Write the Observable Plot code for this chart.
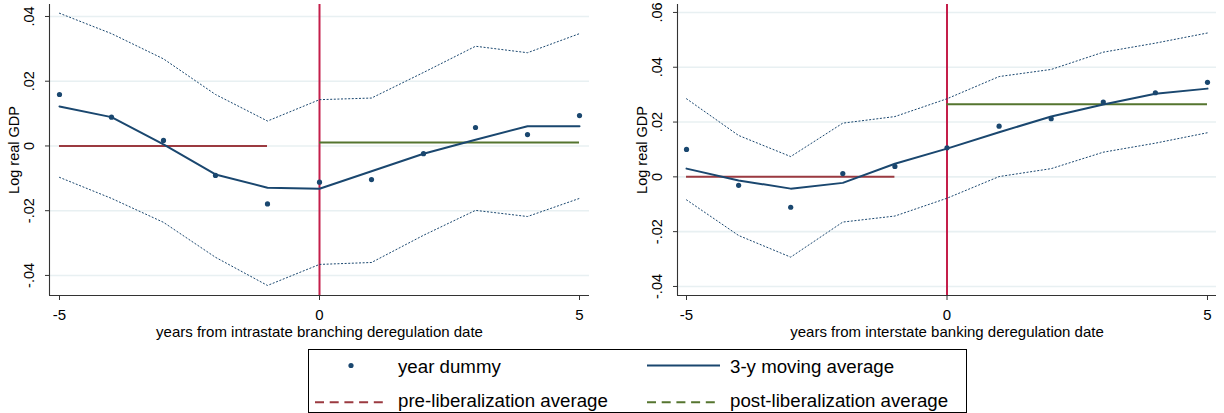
<!DOCTYPE html>
<html>
<head>
<meta charset="utf-8">
<script src="https://cdn.jsdelivr.net/npm/d3@7"></script>
<script src="https://cdn.jsdelivr.net/npm/@observablehq/plot@0.6"></script>
<style>
  html, body { margin: 0; padding: 0; background: #fff; }
  #page { position: relative; width: 1224px; height: 413px; overflow: hidden;
          font-family: "Liberation Sans", Arial, sans-serif; }
  #left { position: absolute; left: 0; top: 0; }
  #right { position: absolute; left: 612px; top: 0; }
  #legend { position: absolute; left: 0; top: 340px; }
</style>
</head>
<body>
<div id="page">
  <div id="left"></div>
  <div id="right"></div>
  <svg id="legend" width="1224" height="73"></svg>
</div>
<script>
// Event time: years relative to the deregulation date
const years = [-5, -4, -3, -2, -1, 0, 1, 2, 3, 4, 5];
const xTicks = [-5, 0, 5];

// Intrastate branching deregulation
const intraDummy = [0.0159, 0.0089, 0.0017, -0.0091, -0.0179, -0.0112, -0.0104, -0.0024, 0.0057, 0.0035, 0.0094];
const intraMA    = [0.0122, 0.0089, 0.0005, -0.0088, -0.0129, -0.0132, -0.0078, -0.0024, 0.0019, 0.0061, 0.0061];
const intraUpper = [0.0410, 0.0347, 0.0269, 0.0159, 0.0077, 0.0143, 0.0148, 0.0227, 0.0308, 0.0288, 0.0347];
const intraLower = [-0.0097, -0.0162, -0.0236, -0.0344, -0.0431, -0.0366, -0.0360, -0.0276, -0.0199, -0.0218, -0.0162];
const intraPre  = 0.0;
const intraPost = 0.0011;
const intraYTicks = [-0.04, -0.02, 0, 0.02, 0.04];

// Interstate banking deregulation
const interDummy = [0.0100, -0.0031, -0.0111, 0.0012, 0.0038, 0.0106, 0.0185, 0.0212, 0.0273, 0.0307, 0.0345];
const interMA    = [0.0030, -0.0013, -0.0043, -0.0022, 0.0048, 0.0103, 0.0163, 0.0220, 0.0264, 0.0303, 0.0322];
const interUpper = [0.0285, 0.0151, 0.0074, 0.0196, 0.0220, 0.0285, 0.0366, 0.0392, 0.0455, 0.0488, 0.0525];
const interLower = [-0.0084, -0.0214, -0.0293, -0.0165, -0.0143, -0.0078, 0.0001, 0.0030, 0.0090, 0.0123, 0.0161];
const interPre  = 0.0;
const interPost = 0.0265;
const interYTicks = [-0.04, -0.02, 0, 0.02, 0.04, 0.06];

// Legend entries
const legendLabels = ["year dummy", "3-y moving average", "pre-liberalization average", "post-liberalization average"];

const navy = "#1a476f";
const maroon = "#9b3a40";
const green = "#55752f";
const cranberry = "#c41e4a";
const gridColor = "#e8f0f2";
const axisColor = "#333";
const font = '"Liberation Sans", Arial, sans-serif';

// Stata-style number labels: .04, -.02, 0
const stataFmt = d => d === 0 ? "0" : d.toFixed(2).replace("0.", ".");

function panel({dummy, ma, upper, lower, pre, post, yTicks, xDomain, yDomain, marginLeft, marginRight, xLabel}) {
  const rows = years.map((t, i) => ({t, dummy: dummy[i], ma: ma[i], upper: upper[i], lower: lower[i]}));
  const preSeg = [{y: pre, x1: years[0], x2: -1}];
  const postSeg = [{y: post, x1: 0, x2: years[years.length - 1]}];
  return Plot.plot({
    width: 612,
    height: 340,
    marginTop: 4,
    marginBottom: 45,
    marginLeft,
    marginRight,
    style: {fontFamily: font, fontSize: "14.5px", color: "#000", background: "#fff", overflow: "visible"},
    x: {domain: xDomain},
    y: {domain: yDomain},
    marks: [
      Plot.gridY(yTicks, {stroke: gridColor, strokeOpacity: 1, strokeWidth: 1.6}),
      Plot.ruleX([xDomain[0]], {stroke: axisColor, strokeWidth: 1.1}),
      Plot.ruleY([yDomain[0]], {stroke: axisColor, strokeWidth: 1.1}),
      Plot.axisY({
        ticks: yTicks, tickSize: 4, tickPadding: 11.5, tickRotate: -90,
        tickFormat: stataFmt, stroke: axisColor,
        label: "Log real GDP", labelAnchor: "center", labelArrow: "none", labelOffset: 40.5,
        fontSize: "14.5px"
      }),
      Plot.axisX({
        ticks: xTicks, tickSize: 5, tickPadding: 9, tickFormat: d => String(d), stroke: axisColor,
        label: xLabel, labelAnchor: "center", labelArrow: "none", labelOffset: 41.5,
        fontSize: "15px"
      }),
      Plot.ruleX([0], {stroke: cranberry, strokeWidth: 2}),
      Plot.line(rows, {x: "t", y: "upper", stroke: navy, strokeWidth: 1, strokeDasharray: "1.2 2.4"}),
      Plot.line(rows, {x: "t", y: "lower", stroke: navy, strokeWidth: 1, strokeDasharray: "1.2 2.4"}),
      Plot.ruleY(preSeg, {y: "y", x1: "x1", x2: "x2", stroke: maroon, strokeWidth: 2}),
      Plot.ruleY(postSeg, {y: "y", x1: "x1", x2: "x2", stroke: green, strokeWidth: 2}),
      Plot.line(rows, {x: "t", y: "ma", stroke: navy, strokeWidth: 2}),
      Plot.dot(rows, {x: "t", y: "dummy", r: 2.6, fill: navy, stroke: "none"})
    ]
  });
}

document.getElementById("left").append(panel({
  dummy: intraDummy, ma: intraMA, upper: intraUpper, lower: intraLower,
  pre: intraPre, post: intraPost, yTicks: intraYTicks,
  xDomain: [-5.192, 5.192], yDomain: [-0.0462, 0.0437],
  marginLeft: 49, marginRight: 23,
  xLabel: "years from intrastate branching deregulation date"
}));

document.getElementById("right").append(panel({
  dummy: interDummy, ma: interMA, upper: interUpper, lower: interLower,
  pre: interPre, post: interPost, yTicks: interYTicks,
  xDomain: [-5.173, 5.173], yDomain: [-0.0433, 0.0629],
  marginLeft: 65, marginRight: 8,
  xLabel: "years from interstate banking deregulation date"
}));

// Legend box below the two panels
const lg = d3.select("#legend");
lg.append("rect")
  .attr("x", 308.5).attr("y", 9.5).attr("width", 658).attr("height", 63)
  .attr("fill", "#fff").attr("stroke", "#000").attr("stroke-width", 1);

const cols = [315, 647];
const rowsY = [25.5, 62.3];
const textX = [398, 730];
const baseY = [33.3, 66.7];
const swatchLen = 73;

// year dummy marker
lg.append("circle").attr("cx", 351).attr("cy", rowsY[0]).attr("r", 2.6).attr("fill", navy);
// moving average line
lg.append("line").attr("x1", cols[1]).attr("x2", cols[1] + swatchLen)
  .attr("y1", rowsY[0]).attr("y2", rowsY[0]).attr("stroke", navy).attr("stroke-width", 2);
// pre / post averages (dashed)
lg.append("line").attr("x1", cols[0]).attr("x2", cols[0] + swatchLen)
  .attr("y1", rowsY[1]).attr("y2", rowsY[1]).attr("stroke", maroon).attr("stroke-width", 2)
  .attr("stroke-dasharray", "9 5.7");
lg.append("line").attr("x1", cols[1]).attr("x2", cols[1] + swatchLen)
  .attr("y1", rowsY[1]).attr("y2", rowsY[1]).attr("stroke", green).attr("stroke-width", 2)
  .attr("stroke-dasharray", "9 5.7");

legendLabels.forEach((label, i) => {
  const c = i % 2, r = Math.floor(i / 2);
  lg.append("text")
    .attr("x", textX[c]).attr("y", baseY[r])
    .attr("font-family", font).attr("font-size", "18.7px").attr("fill", "#000")
    .text(label);
});
</script>
</body>
</html>
